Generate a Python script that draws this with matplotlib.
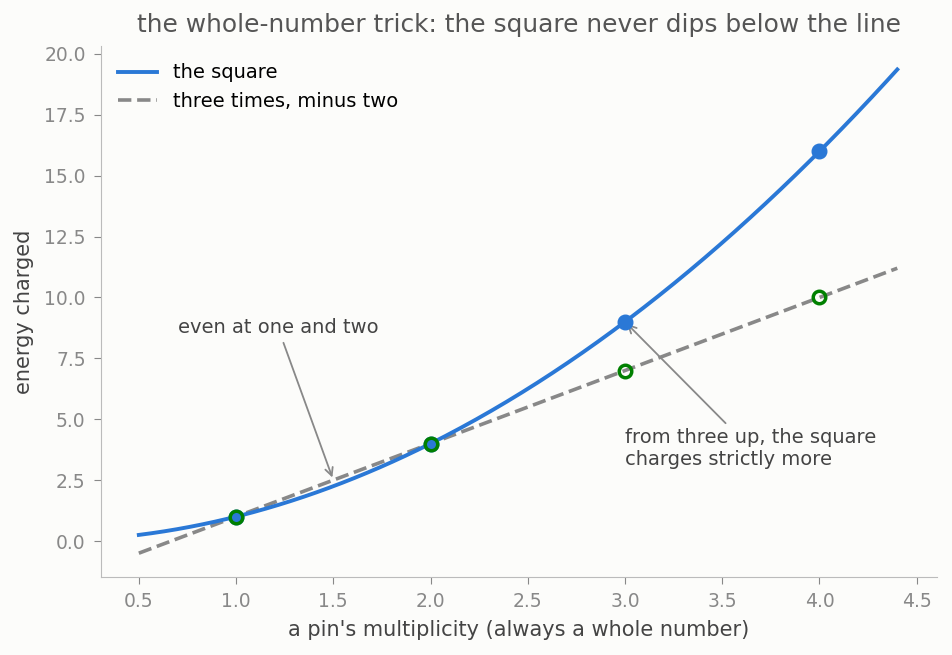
import numpy as np
import matplotlib.pyplot as plt

# whole-number multiplicities and the two cost rules
whole = [1, 2, 3, 4]
square_vals = [1, 4, 9, 16]
line_vals = [1, 4, 7, 10]
x_range = [0.5, 4.4]

blue = '#2a78d6'
grey = '#888888'

plt.rcParams['font.family'] = ['DejaVu Sans']

fig, ax = plt.subplots(figsize=(9.52, 6.55), dpi=100)
fig.patch.set_facecolor('#fcfcfa')
ax.set_facecolor('#fcfcfa')
fig.subplots_adjust(left=0.106, right=0.984, bottom=0.119, top=0.930)

xs = np.linspace(x_range[0], x_range[1], 300)
ax.plot(xs, xs ** 2, color=blue, lw=2.8, label='the square', zorder=3)
ax.plot(xs, 3 * xs - 2, color=grey, lw=2.6, ls='--', label='three times, minus two', zorder=2)

ax.plot(whole, square_vals, 'o', color=blue, ms=10.5, zorder=4)
ax.plot(whole, line_vals, 'o', mfc='none', mec='green', mew=2.5, ms=9, zorder=5)

ax.annotate('even at one and two', xy=(1.5, 2.5), xytext=(0.7, 8.75),
            ha='left', va='center', fontsize=14, color='#444444',
            arrowprops=dict(arrowstyle='->', color=grey, lw=1.3))
ax.annotate('from three up, the square\ncharges strictly more', xy=(3.0, 9.0), xytext=(3.0, 3.8),
            ha='left', va='center', fontsize=14, color='#444444',
            arrowprops=dict(arrowstyle='->', color=grey, lw=1.3))

ax.set_xlim(0.305, 4.603)
ax.set_ylim(-1.48, 20.33)
ax.set_xticks(np.arange(0.5, 4.51, 0.5))
ax.set_yticks(np.arange(0, 20.01, 2.5))

for s in ['top', 'right']:
    ax.spines[s].set_visible(False)
for s in ['left', 'bottom']:
    ax.spines[s].set_color('#bbbbbb')
ax.tick_params(colors='#888888', labelsize=13.5, length=5, pad=6)

ax.set_title('the whole-number trick: the square never dips below the line', fontsize=17.9, color='#555555', pad=10)
ax.set_xlabel("a pin's multiplicity (always a whole number)", fontsize=15, color='#444444', labelpad=6.5)
ax.set_ylabel('energy charged', fontsize=15, color='#444444', labelpad=7)

ax.legend(loc='upper left', frameon=False, fontsize=14, handlelength=2.0, handletextpad=0.8)

fig.savefig('out.png', facecolor=fig.get_facecolor())
